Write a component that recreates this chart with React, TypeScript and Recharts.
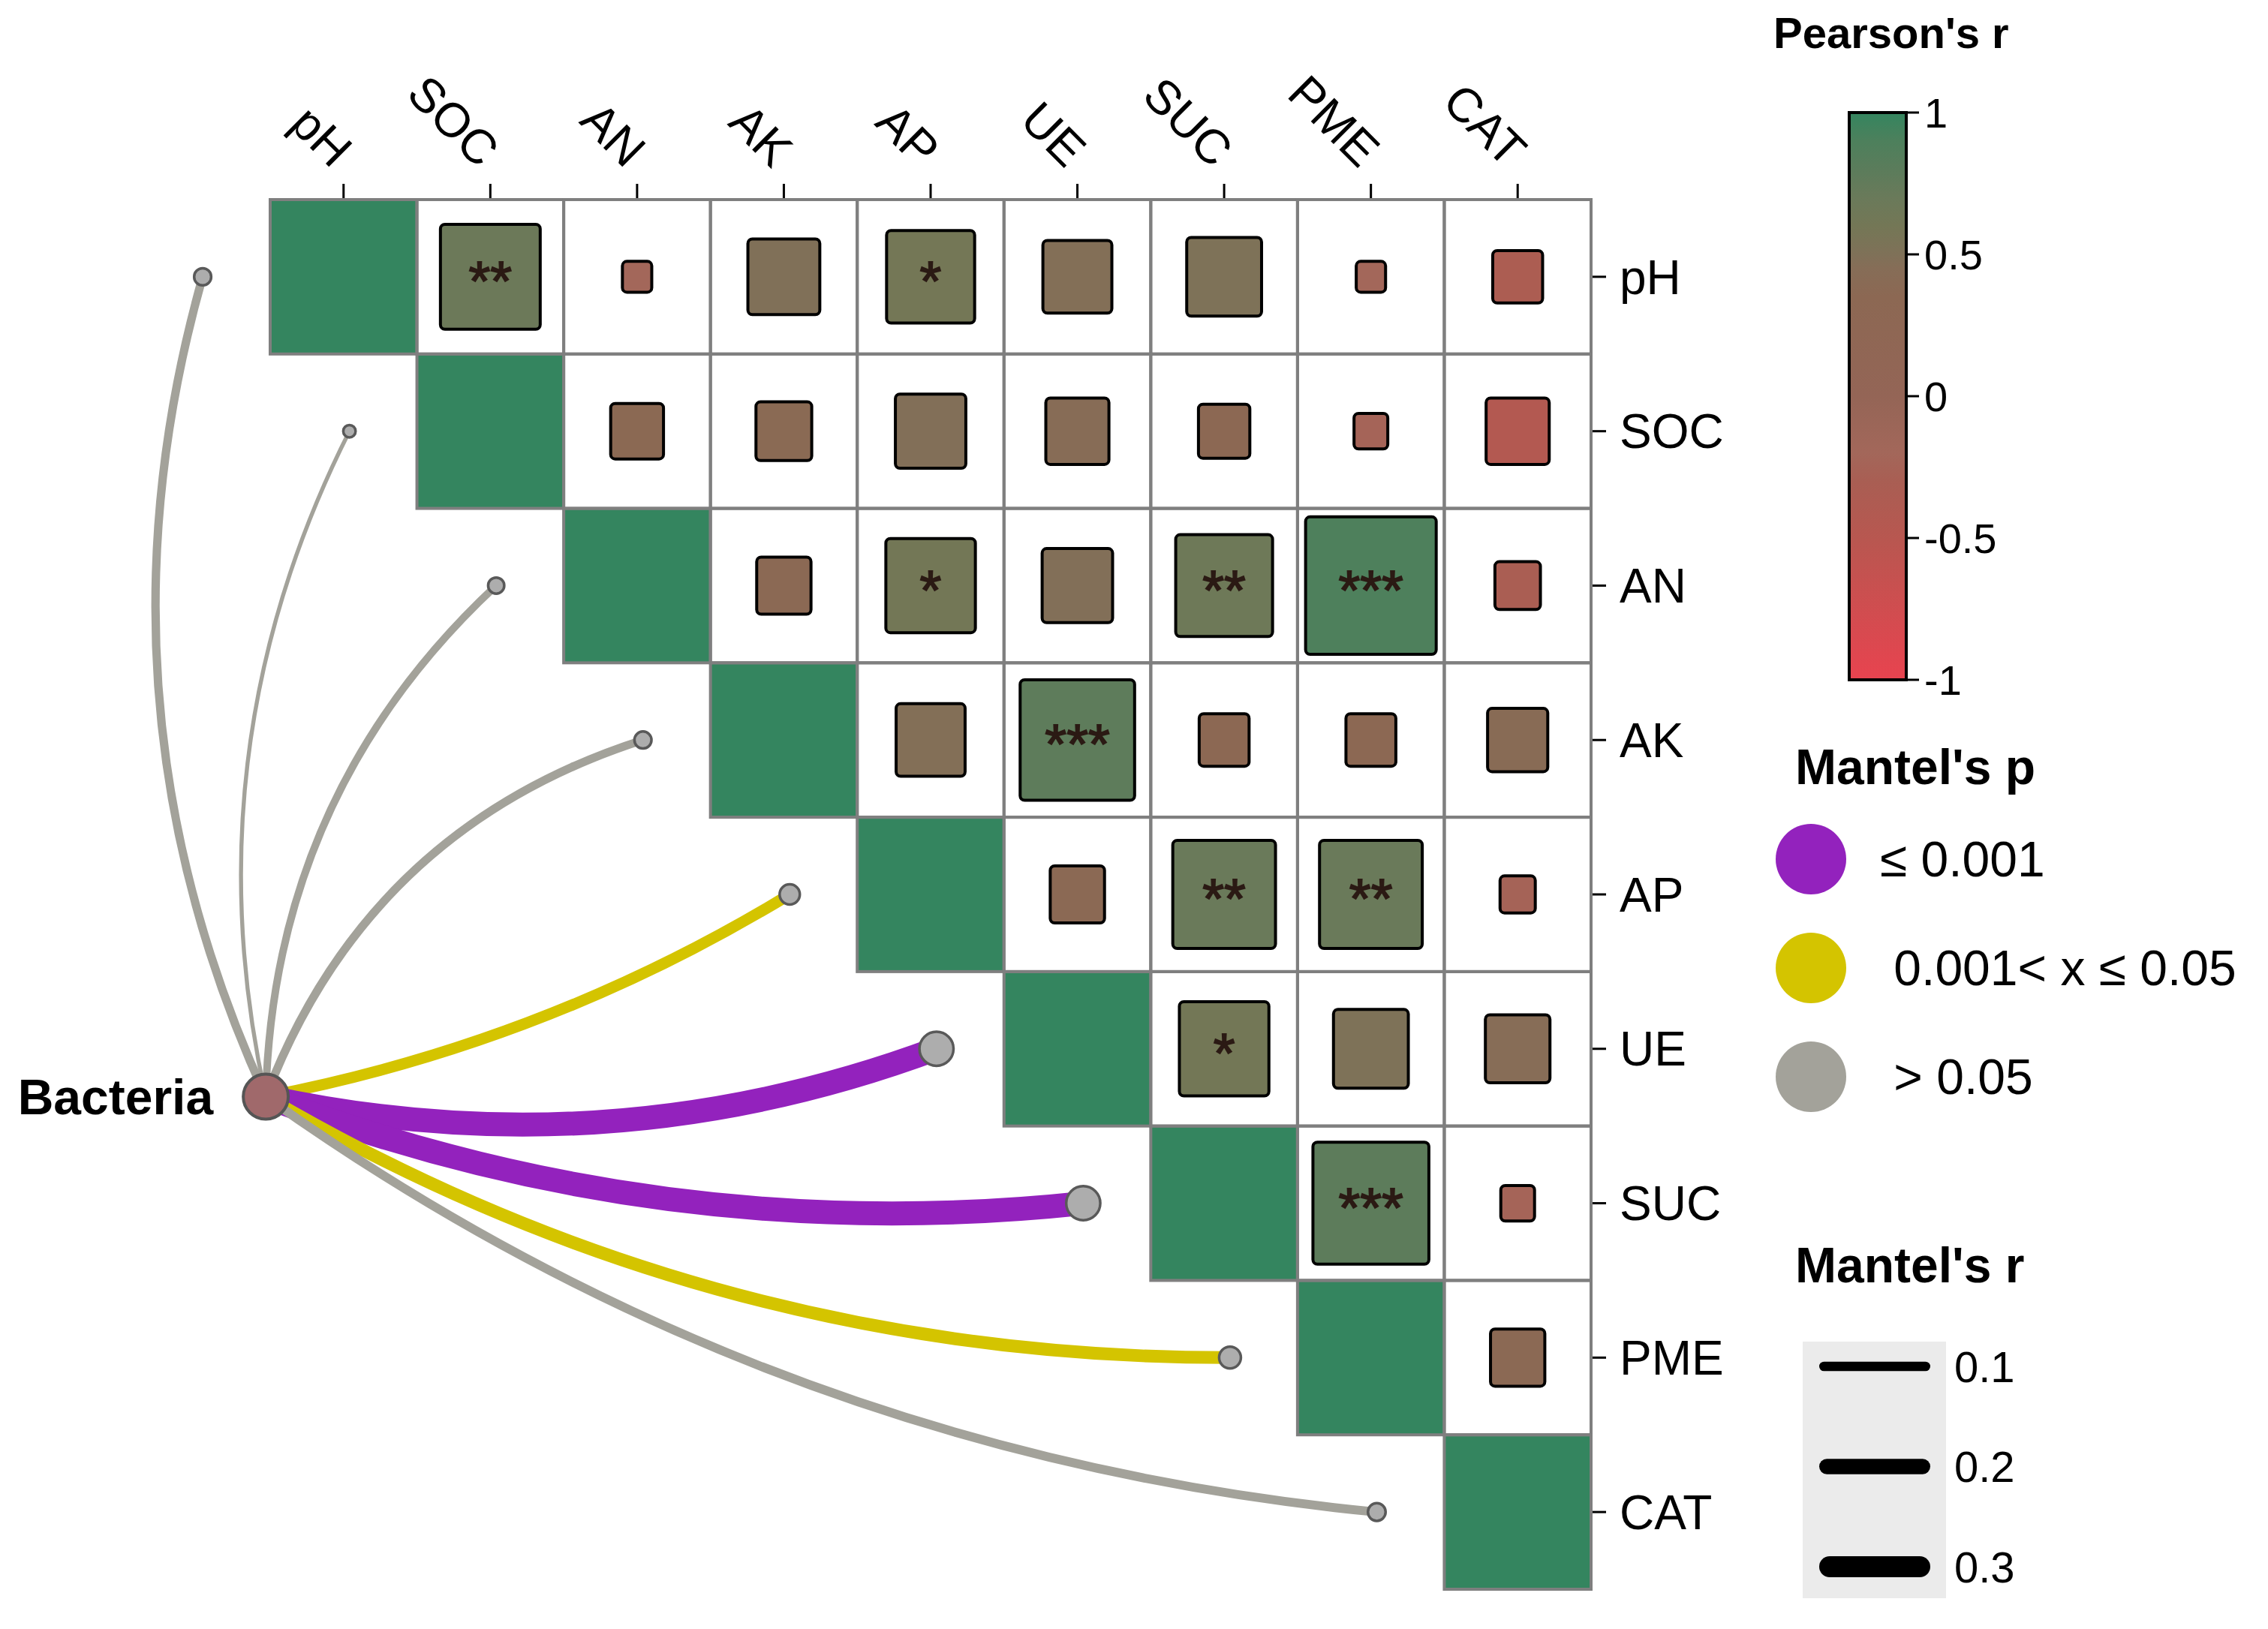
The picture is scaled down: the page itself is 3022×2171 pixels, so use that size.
import React from "react";
import { ScatterChart, Scatter, XAxis, YAxis, ReferenceLine } from "recharts";

// ---- data ----
const VARIABLES = ["pH", "SOC", "AN", "AK", "AP", "UE", "SUC", "PME", "CAT"];

// Pearson's r, upper triangle: row i starts at column i (the diagonal)
const PEARSON_R = [
  [1, 0.68, -0.2, 0.49, 0.6, 0.47, 0.51, -0.2, -0.34],
  [1, 0.36, 0.38, 0.48, 0.43, 0.35, -0.23, -0.43],
  [1, 0.37, 0.61, 0.48, 0.66, 0.89, -0.31],
  [1, 0.47, 0.78, 0.34, 0.34, 0.41],
  [1, 0.37, 0.7, 0.7, -0.24],
  [1, 0.61, 0.51, 0.44],
  [1, 0.79, -0.23],
  [1, 0.37],
  [1],
];

const PEARSON_SIG = [
  ["", "**", "", "", "*", "", "", "", ""],
  ["", "", "", "", "", "", "", ""],
  ["", "", "*", "", "**", "***", ""],
  ["", "", "***", "", "", ""],
  ["", "", "**", "**", ""],
  ["", "*", "", ""],
  ["", "***", ""],
  ["", ""],
  [""],
];

const SPECIES = "Bacteria";
const MANTEL_R = [0.08, 0.005, 0.065, 0.08, 0.13, 0.35, 0.35, 0.155, 0.09];
// 0: p <= 0.001, 1: 0.001 < p <= 0.05, 2: p > 0.05
const MANTEL_P_CLASS = [2, 2, 2, 2, 1, 0, 0, 1, 2];
const P_LABELS = ["\u2264 0.001", "\u00A00.001< x \u2264 0.05", "\u00A0> 0.05"];
const R_LEGEND = [0.1, 0.2, 0.3];
const COLORBAR_TICKS = [1, 0.5, 0, -0.5, -1];
const NODE = { x: -0.53, y: 5.31 };

// ---- layout / style ----
const W = 3022;
const H = 2171;
const FONT = "'Liberation Sans', Arial, Helvetica, sans-serif";
const X_MIN = -2.3;
const X_MAX = 8.5;
const MARGIN = { top: 0, right: 0, bottom: 53, left: 8 };
const TOP_AXIS_H = 266;
const RIGHT_AXIS_W = 902;
const CELL_W = (W - MARGIN.left - MARGIN.right - RIGHT_AXIS_W) / (X_MAX - X_MIN);
const CELL_H = (H - MARGIN.top - MARGIN.bottom - TOP_AXIS_H) / 9;
const TICKS = VARIABLES.map((_, i) => i);
const ENDPOINT_SHIFT = 0.04;

const P_COLORS = ["#9322BD", "#D4C400", "#A3A29A"];
// signed bend of each link (fraction of its length)
const CURVE_BEND = [0.092, 0.089, 0.105, 0.12, -0.045, -0.073, -0.06, -0.068, -0.067];

const COLOR_STOPS: [number, string][] = [
  [-1, "#E8434F"],
  [-0.5, "#B85750"],
  [-0.3, "#A95E53"],
  [-0.2, "#A3675A"],
  [0, "#946556"],
  [0.35, "#8C6853"],
  [0.45, "#866D57"],
  [0.5, "#7F7158"],
  [0.6, "#747756"],
  [0.7, "#6A7A5A"],
  [0.8, "#5B7C5B"],
  [0.9, "#4D805C"],
  [1, "#34855F"],
];

function hexToRgb(h: string) {
  const n = parseInt(h.slice(1), 16);
  return [(n >> 16) & 255, (n >> 8) & 255, n & 255];
}

function corColor(r: number) {
  for (let i = 1; i < COLOR_STOPS.length; i++) {
    const [v1, c1] = COLOR_STOPS[i];
    const [v0, c0] = COLOR_STOPS[i - 1];
    if (r <= v1) {
      const t = (r - v0) / (v1 - v0);
      const a = hexToRgb(c0);
      const b = hexToRgb(c1);
      const m = a.map((x, k) => Math.round(x + (b[k] - x) * t));
      return `rgb(${m[0]},${m[1]},${m[2]})`;
    }
  }
  return COLOR_STOPS[COLOR_STOPS.length - 1][1];
}

const lineWidth = (r: number) => 5 + 77 * r;
const dotRadius = (r: number) => 8 + 42 * r;

const cells = PEARSON_R.flatMap((row, i) =>
  row.map((r, k) => ({ x: i + k, y: i, r, sig: PEARSON_SIG[i][k], diag: k === 0 }))
);

const links = VARIABLES.map((name, i) => ({
  name,
  x: i - 1 + ENDPOINT_SHIFT,
  y: i,
  r: MANTEL_R[i],
  p: MANTEL_P_CLASS[i],
  bend: CURVE_BEND[i],
}));

// ---- shapes ----
function CellShape(props: any) {
  const { cx, cy, payload } = props;
  const a = Math.abs(payload.r);
  const w = a * CELL_W;
  const h = a * CELL_H;
  return (
    <g>
      <rect x={cx - CELL_W / 2} y={cy - CELL_H / 2} width={CELL_W} height={CELL_H} fill="#fff" />
      {payload.diag ? (
        <rect x={cx - w / 2} y={cy - h / 2} width={w} height={h} fill={corColor(payload.r)} />
      ) : (
        <rect
          x={cx - w / 2}
          y={cy - h / 2}
          width={w}
          height={h}
          rx={6}
          fill={corColor(payload.r)}
          stroke="#000"
          strokeWidth={4}
        />
      )}
      {payload.sig ? (
        <text
          x={cx}
          y={cy}
          dy="0.42em"
          textAnchor="middle"
          fontSize={74}
          fill="#2B1A14"
          stroke="#2B1A14"
          strokeWidth={1.8}
          fontFamily={FONT}
        >
          {payload.sig}
        </text>
      ) : null}
    </g>
  );
}

function CellBorder(props: any) {
  const { cx, cy } = props;
  return (
    <rect
      x={cx - CELL_W / 2}
      y={cy - CELL_H / 2}
      width={CELL_W}
      height={CELL_H}
      fill="none"
      stroke="#7F7F7F"
      strokeWidth={4}
    />
  );
}

function LinkCurve(props: any) {
  const { x1, y1, x2, y2, link } = props;
  const dx = x2 - x1;
  const dy = y2 - y1;
  const len = Math.hypot(dx, dy);
  const nx = dy / len;
  const ny = -dx / len;
  const k = 2 * link.bend * len;
  const qx = (x1 + x2) / 2 + nx * k;
  const qy = (y1 + y2) / 2 + ny * k;
  return (
    <path
      d={`M${x1},${y1} Q${qx},${qy} ${x2},${y2}`}
      fill="none"
      stroke={P_COLORS[link.p]}
      strokeWidth={lineWidth(link.r)}
      strokeLinecap="round"
    />
  );
}

function EndDot(props: any) {
  const { cx, cy, payload } = props;
  return <circle cx={cx} cy={cy} r={dotRadius(payload.r)} fill="#ADADAD" stroke="#595959" strokeWidth={3.5} />;
}

function NodeShape(props: any) {
  const { cx, cy } = props;
  return (
    <g>
      <circle cx={cx} cy={cy} r={30} fill="#A0696B" stroke="#555" strokeWidth={4} />
      <text x={cx - 70} y={cy} dy="0.355em" textAnchor="end" fontSize={66} fontWeight="bold" fill="#000" fontFamily={FONT}>
        {SPECIES}
      </text>
    </g>
  );
}

function TopTick(props: any) {
  const { x, y, payload } = props;
  return (
    <text
      x={x}
      y={y}
      dy="0.35em"
      textAnchor="end"
      transform={`rotate(45, ${x}, ${y})`}
      fontSize={64}
      fill="#000"
      fontFamily={FONT}
    >
      {VARIABLES[payload.value]}
    </text>
  );
}

// ---- legends ----
const CB = { x: 2464, y: 150, w: 76, h: 756 };

function Legends() {
  const cbY = (v: number) => CB.y + ((1 - v) / 2) * CB.h;
  // gradient stops must run top (r = 1) to bottom (r = -1)
  const stops = [...COLOR_STOPS].reverse();
  return (
    <svg width={W} height={H} style={{ position: "absolute", left: 0, top: 0, pointerEvents: "none" }}>
      <defs>
        <linearGradient id="cbar" x1="0" y1="0" x2="0" y2="1">
          {stops.map(([v, c]) => (
            <stop key={v} offset={(1 - v) / 2} stopColor={c} />
          ))}
        </linearGradient>
      </defs>
      <g fontFamily={FONT} fill="#000">
        <text x={2363} y={64} fontSize={58} fontWeight="bold">
          Pearson's r
        </text>
        <rect x={CB.x} y={CB.y} width={CB.w} height={CB.h} fill="url(#cbar)" stroke="#000" strokeWidth={4} />
        {COLORBAR_TICKS.map((v) => (
          <g key={v}>
            <line x1={CB.x + CB.w} x2={CB.x + CB.w + 17} y1={cbY(v)} y2={cbY(v)} stroke="#000" strokeWidth={3} />
            <text x={CB.x + CB.w + 24} y={cbY(v)} dy="0.355em" fontSize={56}>
              {v}
            </text>
          </g>
        ))}

        <text x={2392} y={1045} fontSize={66} fontWeight="bold">
          Mantel's p
        </text>
        {P_LABELS.map((lab, i) => (
          <g key={lab}>
            <circle cx={2413} cy={1145 + i * 145} r={47} fill={P_COLORS[i]} />
            <text x={2505} y={1145 + i * 145} dy="0.355em" fontSize={66}>
              {lab}
            </text>
          </g>
        ))}

        <text x={2392} y={1709} fontSize={66} fontWeight="bold">
          Mantel's r
        </text>
        <rect x={2402} y={1788} width={191} height={342} fill="#EBEBEB" />
        {R_LEGEND.map((r, i) => {
          const w = lineWidth(r);
          const y = 1821 + i * 133.5;
          return (
            <g key={r}>
              <line x1={2424 + w / 2} x2={2572 - w / 2} y1={y} y2={y} stroke="#000" strokeWidth={w} strokeLinecap="round" />
              <text x={2604} y={y} dy="0.355em" fontSize={58}>
                {r}
              </text>
            </g>
          );
        })}
      </g>
    </svg>
  );
}

export default function App() {
  return (
    <div style={{ position: "relative", width: W, height: H, background: "#fff" }}>
      <style>{"body{margin:0}"}</style>
      <ScatterChart width={W} height={H} margin={MARGIN}>
        <XAxis
          type="number"
          dataKey="x"
          orientation="top"
          height={TOP_AXIS_H}
          domain={[X_MIN, X_MAX]}
          ticks={TICKS}
          interval={0}
          axisLine={false}
          tickLine={{ stroke: "#000", strokeWidth: 3 }}
          tickSize={21}
          tickMargin={35}
          tick={<TopTick />}
        />
        <YAxis
          type="number"
          dataKey="y"
          orientation="right"
          width={RIGHT_AXIS_W}
          domain={[-0.5, 8.5]}
          reversed
          ticks={TICKS}
          interval={0}
          axisLine={false}
          tickLine={{ stroke: "#000", strokeWidth: 3 }}
          tickSize={20}
          tickMargin={18}
          tickFormatter={(v: number) => VARIABLES[v]}
          tick={{ fontSize: 64, fill: "#000", fontFamily: FONT }}
        />
        <Scatter data={cells} shape={CellShape} isAnimationActive={false} />
        <Scatter data={cells} shape={CellBorder} isAnimationActive={false} />
        {links.map((l) => (
          <ReferenceLine
            key={l.name}
            segment={[
              { x: NODE.x, y: NODE.y },
              { x: l.x, y: l.y },
            ]}
            ifOverflow="visible"
            shape={(p: any) => <LinkCurve {...p} link={l} />}
          />
        ))}
        <Scatter data={links} shape={EndDot} isAnimationActive={false} />
        <Scatter data={[NODE]} shape={NodeShape} isAnimationActive={false} />
      </ScatterChart>
      <Legends />
    </div>
  );
}
